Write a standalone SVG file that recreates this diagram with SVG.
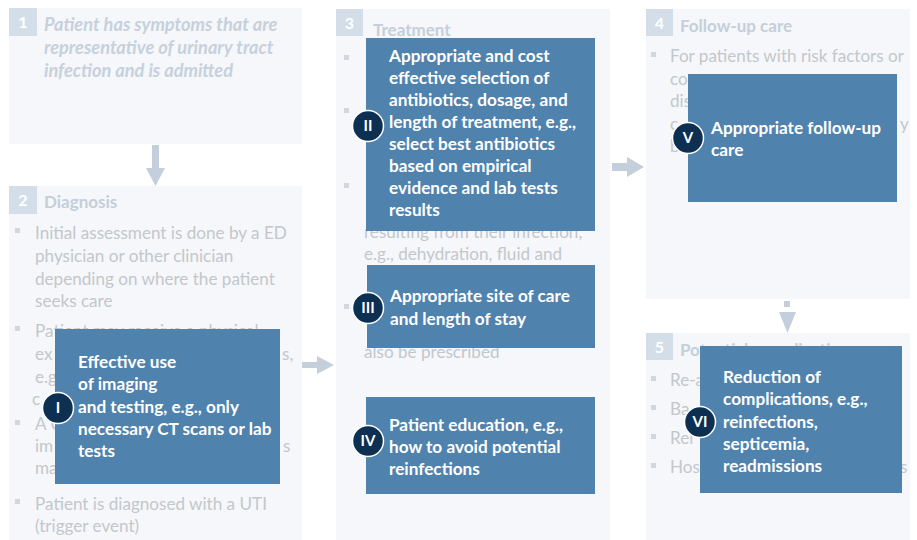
<svg xmlns="http://www.w3.org/2000/svg" width="917" height="540" viewBox="0 0 917 540">
<style>
.panel{fill:#f5f7fa}
.num{fill:#d3dee9}
.numt{font-family:Lato,"Liberation Sans",sans-serif;font-weight:bold;font-size:16px;fill:#ffffff;text-anchor:middle}
.head{font-family:Lato,"Liberation Sans",sans-serif;font-weight:bold;font-size:17px;fill:#c4cfda}
.ital{font-family:Lato,"Liberation Sans",sans-serif;font-weight:bold;font-style:italic;font-size:18.2px;fill:#c6d1dc}
.body{font-family:Lato,"Liberation Sans",sans-serif;font-size:17.1px;fill:#c4c7ca}
.bul{fill:#d3d7db}
.box{fill:#5082ae}
.boxt{font-family:Lato,"Liberation Sans",sans-serif;font-weight:bold;font-size:17.2px;fill:#ffffff}
.badge{fill:#0c2f52;stroke:#ffffff;stroke-width:1.5}
.badget{font-family:Lato,"Liberation Sans",sans-serif;font-weight:bold;font-size:15px;fill:#ffffff;text-anchor:middle}
.arr{fill:#c3cfdb}
</style>
<g id="panel1">
<rect class="panel" x="9" y="8" width="293" height="136"/>
<rect class="num" x="9" y="8" width="28" height="28"/>
<text class="numt" x="23" y="28">1</text>
<text class="ital" x="44" y="31">Patient has symptoms that are</text>
<text class="ital" x="44" y="54">representative of urinary tract</text>
<text class="ital" x="44" y="77">infection and is admitted</text>
</g>
<g id="panel2">
<rect class="panel" x="9" y="186" width="293" height="354"/>
<rect class="num" x="9" y="186" width="28" height="28"/>
<text class="numt" x="23" y="206">2</text>
<text class="head" x="44" y="208">Diagnosis</text>
<rect class="bul" x="15" y="228" width="5" height="5"/>
<text class="body" x="35" y="239">Initial assessment is done by a ED</text>
<text class="body" x="35" y="262">physician or other clinician</text>
<text class="body" x="35" y="285">depending on where the patient</text>
<text class="body" x="35" y="307">seeks care</text>
<rect class="bul" x="15" y="326" width="5" height="5"/>
<text class="body" x="35" y="337">Patient may receive a physical</text>
<text class="body" x="35" y="360">ex</text>
<text class="body" x="282" y="360">s,</text>
<text class="body" x="35" y="383">e.g</text>
<text class="body" x="32" y="405">c</text>
<rect class="bul" x="15" y="420" width="5" height="5"/>
<text class="body" x="35" y="430">A C</text>
<text class="body" x="35" y="452">im</text>
<text class="body" x="283" y="452">s</text>
<text class="body" x="35" y="474">ma</text>
<rect class="bul" x="15" y="499" width="5" height="5"/>
<text class="body" x="35" y="510">Patient is diagnosed with a UTI</text>
<text class="body" x="35" y="532">(trigger event)</text>
</g>
<g id="panel3">
<rect class="panel" x="336" y="9" width="274" height="531"/>
<rect class="num" x="336" y="9" width="27" height="27"/>
<text class="numt" x="349.5" y="29">3</text>
<text class="head" x="373" y="36">Treatment</text>
<rect class="bul" x="344" y="55" width="5" height="5"/>
<rect class="bul" x="344" y="108" width="5" height="5"/>
<rect class="bul" x="344" y="183" width="5" height="5"/>
<text class="body" x="364" y="238">resulting from their infection,</text>
<text class="body" x="364" y="260">e.g., dehydration, fluid and</text>
<rect class="bul" x="344" y="304" width="5" height="5"/>
<text class="body" x="364" y="358">also be prescribed</text>
</g>
<g id="panel4">
<rect class="panel" x="646" y="9" width="264" height="290"/>
<rect class="num" x="646" y="9" width="27" height="27"/>
<text class="numt" x="659.5" y="29">4</text>
<text class="head" x="680" y="32">Follow-up care</text>
<rect class="bul" x="651" y="52" width="5" height="5"/>
<text class="body" x="670" y="62">For patients with risk factors or</text>
<text class="body" x="670" y="85">co</text>
<text class="body" x="670" y="107">dis</text>
<text class="body" x="670" y="130">c</text>
<text class="body" x="900" y="130">y</text>
<text class="body" x="670" y="152">b</text>
</g>
<g id="panel5">
<rect class="panel" x="646" y="333" width="264" height="207"/>
<rect class="num" x="646" y="333" width="27" height="27"/>
<text class="numt" x="659.5" y="353">5</text>
<text class="head" x="680" y="356">Potential complications</text>
<rect class="bul" x="651" y="376" width="5" height="5"/>
<text class="body" x="670" y="386">Re-a</text>
<rect class="bul" x="651" y="405" width="5" height="5"/>
<text class="body" x="670" y="415">Ba</text>
<rect class="bul" x="651" y="434" width="5" height="5"/>
<text class="body" x="670" y="444">Rei</text>
<rect class="bul" x="651" y="463" width="5" height="5"/>
<text class="body" x="670" y="473">Hos</text>
<text class="body" x="900" y="473">s</text>
</g>
<g id="connectors">
<polygon class="arr" points="152,145 159,145 159,168 165,168 155.5,186 146,168 152,168"/>
<polygon class="arr" points="302,362 317,362 317,356 334,365 317,374 317,368 302,368"/>
<polygon class="arr" points="612,163 627,163 627,157 644,167 627,177 627,171 612,171"/>
<rect class="arr" x="784" y="301" width="6" height="6"/>
<polygon class="arr" points="779,312 796,312 787.5,333"/>
</g>
<g id="boxI">
<rect class="box" x="55" y="329" width="225" height="155"/>
<text class="boxt" x="78" y="368">Effective use</text>
<text class="boxt" x="78" y="390">of imaging</text>
<text class="boxt" x="78" y="413">and testing, e.g., only</text>
<text class="boxt" x="78" y="435">necessary CT scans or lab</text>
<text class="boxt" x="78" y="457">tests</text>
<circle class="badge" cx="58" cy="408" r="15.5"/>
<text class="badget" x="58" y="413">I</text>
</g>
<g id="boxII">
<rect class="box" x="366" y="38" width="229" height="193"/>
<text class="boxt" x="389" y="62">Appropriate and cost</text>
<text class="boxt" x="389" y="84">effective selection of</text>
<text class="boxt" x="389" y="106">antibiotics, dosage, and</text>
<text class="boxt" x="389" y="128">length of treatment, e.g.,</text>
<text class="boxt" x="389" y="150">select best antibiotics</text>
<text class="boxt" x="389" y="172">based on empirical</text>
<text class="boxt" x="389" y="194">evidence and lab tests</text>
<text class="boxt" x="389" y="216">results</text>
<circle class="badge" cx="368" cy="126" r="15.5"/>
<text class="badget" x="368" y="131">II</text>
</g>
<g id="boxIII">
<rect class="box" x="367" y="265" width="228" height="83"/>
<text class="boxt" x="390" y="302">Appropriate site of care</text>
<text class="boxt" x="390" y="325">and length of stay</text>
<circle class="badge" cx="368" cy="308" r="15.5"/>
<text class="badget" x="368" y="313">III</text>
</g>
<g id="boxIV">
<rect class="box" x="366" y="397" width="229" height="97"/>
<text class="boxt" x="389" y="431">Patient education, e.g.,</text>
<text class="boxt" x="389" y="453">how to avoid potential</text>
<text class="boxt" x="389" y="475">reinfections</text>
<circle class="badge" cx="368" cy="441" r="15.5"/>
<text class="badget" x="368" y="446">IV</text>
</g>
<g id="boxV">
<rect class="box" x="688" y="74" width="209" height="128"/>
<text class="boxt" x="711" y="134">Appropriate follow-up</text>
<text class="boxt" x="711" y="156">care</text>
<circle class="badge" cx="688" cy="138" r="15.5"/>
<text class="badget" x="688" y="143">V</text>
</g>
<g id="boxVI">
<rect class="box" x="700" y="346" width="202" height="147"/>
<text class="boxt" x="723" y="383">Reduction of</text>
<text class="boxt" x="723" y="405">complications, e.g.,</text>
<text class="boxt" x="723" y="428">reinfections,</text>
<text class="boxt" x="723" y="450">septicemia,</text>
<text class="boxt" x="723" y="472">readmissions</text>
<circle class="badge" cx="700" cy="422" r="15.5"/>
<text class="badget" x="700" y="427">VI</text>
</g>
</svg>
